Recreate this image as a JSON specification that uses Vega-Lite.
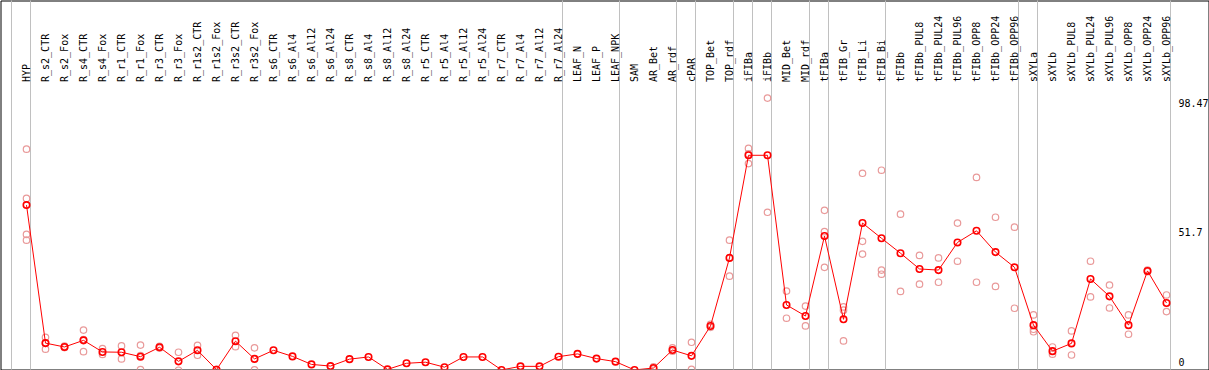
{
  "$schema": "https://vega.github.io/schema/vega-lite/v6.json",
  "width": 1208,
  "height": 369,
  "autosize": {"type": "none"},
  "padding": {"left": 0.5, "top": 0.5, "right": 0, "bottom": 0},
  "background": "white",
  "config": {"view": {"stroke": "black", "strokeWidth": 1}},
  "datasets": {
    "means": [
      {"sample": "HYP", "value": 59.8},
      {"sample": "R_s2_CTR", "value": 9.9},
      {"sample": "R_s2_Fox", "value": 8.5},
      {"sample": "R_s4_CTR", "value": 10.9},
      {"sample": "R_s4_Fox", "value": 6.7},
      {"sample": "R_r1_CTR", "value": 6.6},
      {"sample": "R_r1_Fox", "value": 5.0},
      {"sample": "R_r3_CTR", "value": 8.4},
      {"sample": "R_r3_Fox", "value": 3.3},
      {"sample": "R_r1s2_CTR", "value": 7.3},
      {"sample": "R_r1s2_Fox", "value": 0.3},
      {"sample": "R_r3s2_CTR", "value": 10.6},
      {"sample": "R_r3s2_Fox", "value": 4.2},
      {"sample": "R_s6_CTR", "value": 7.3},
      {"sample": "R_s6_Al4", "value": 5.1},
      {"sample": "R_s6_Al12", "value": 2.2},
      {"sample": "R_s6_Al24", "value": 1.6},
      {"sample": "R_s8_CTR", "value": 4.1},
      {"sample": "R_s8_Al4", "value": 4.9},
      {"sample": "R_s8_Al12", "value": 0.4},
      {"sample": "R_s8_Al24", "value": 2.6},
      {"sample": "R_r5_CTR", "value": 3.0},
      {"sample": "R_r5_Al4", "value": 1.2},
      {"sample": "R_r5_Al12", "value": 4.9},
      {"sample": "R_r5_Al24", "value": 4.9},
      {"sample": "R_r7_CTR", "value": 0.2},
      {"sample": "R_r7_Al4", "value": 1.5},
      {"sample": "R_r7_Al12", "value": 1.5},
      {"sample": "R_r7_Al24", "value": 5.0},
      {"sample": "LEAF_N", "value": 6.0},
      {"sample": "LEAF_P", "value": 4.3},
      {"sample": "LEAF_NPK", "value": 3.2},
      {"sample": "SAM", "value": 0.2},
      {"sample": "AR_Bet", "value": 0.9},
      {"sample": "AR_rdf", "value": 7.4},
      {"sample": "cPAR", "value": 5.3},
      {"sample": "TOP_Bet", "value": 16.1},
      {"sample": "TOP_rdf", "value": 40.7},
      {"sample": "iFIBa", "value": 77.8},
      {"sample": "iFIBb", "value": 77.8},
      {"sample": "MID_Bet", "value": 23.7},
      {"sample": "MID_rdf", "value": 19.7},
      {"sample": "tFIBa", "value": 48.6},
      {"sample": "tFIB_Gr", "value": 18.5},
      {"sample": "tFIB_Li", "value": 53.3},
      {"sample": "tFIB_Bi", "value": 47.8},
      {"sample": "tFIBb", "value": 42.4},
      {"sample": "tFIBb_PUL8", "value": 36.7},
      {"sample": "tFIBb_PUL24", "value": 36.3},
      {"sample": "tFIBb_PUL96", "value": 46.3},
      {"sample": "tFIBb_OPP8", "value": 50.5},
      {"sample": "tFIBb_OPP24", "value": 42.8},
      {"sample": "tFIBb_OPP96", "value": 37.3},
      {"sample": "sXYLa", "value": 16.4},
      {"sample": "sXYLb", "value": 7.0},
      {"sample": "sXYLb_PUL8", "value": 9.8},
      {"sample": "sXYLb_PUL24", "value": 33.1},
      {"sample": "sXYLb_PUL96", "value": 26.8},
      {"sample": "sXYLb_OPP8", "value": 16.4},
      {"sample": "sXYLb_OPP24", "value": 36.0},
      {"sample": "sXYLb_OPP96", "value": 24.4}
    ],
    "reps": [
      {"sample": "HYP", "value": 80.0}, {"sample": "HYP", "value": 62.2}, {"sample": "HYP", "value": 49.2}, {"sample": "HYP", "value": 47.1},
      {"sample": "R_s2_CTR", "value": 12.0}, {"sample": "R_s2_CTR", "value": 9.8}, {"sample": "R_s2_CTR", "value": 7.7},
      {"sample": "R_s2_Fox", "value": 8.8}, {"sample": "R_s2_Fox", "value": 8.3},
      {"sample": "R_s4_CTR", "value": 14.6}, {"sample": "R_s4_CTR", "value": 11.2}, {"sample": "R_s4_CTR", "value": 6.8},
      {"sample": "R_s4_Fox", "value": 7.9}, {"sample": "R_s4_Fox", "value": 5.8},
      {"sample": "R_r1_CTR", "value": 8.9}, {"sample": "R_r1_CTR", "value": 4.2},
      {"sample": "R_r1_Fox", "value": 9.2}, {"sample": "R_r1_Fox", "value": 5.4}, {"sample": "R_r1_Fox", "value": 0.3},
      {"sample": "R_r3_CTR", "value": 8.7}, {"sample": "R_r3_CTR", "value": 8.1},
      {"sample": "R_r3_Fox", "value": 6.6}, {"sample": "R_r3_Fox", "value": 0.1},
      {"sample": "R_r1s2_CTR", "value": 9.1}, {"sample": "R_r1s2_CTR", "value": 5.5},
      {"sample": "R_r1s2_Fox", "value": 0.4}, {"sample": "R_r1s2_Fox", "value": 0.2},
      {"sample": "R_r3s2_CTR", "value": 12.7}, {"sample": "R_r3s2_CTR", "value": 8.6},
      {"sample": "R_r3s2_Fox", "value": 8.2}, {"sample": "R_r3s2_Fox", "value": 0.2},
      {"sample": "AR_Bet", "value": 1.3}, {"sample": "AR_Bet", "value": 0.6},
      {"sample": "AR_rdf", "value": 8.2}, {"sample": "AR_rdf", "value": 7.0},
      {"sample": "cPAR", "value": 10.2}, {"sample": "cPAR", "value": 0.4},
      {"sample": "TOP_Bet", "value": 16.7}, {"sample": "TOP_Bet", "value": 15.6},
      {"sample": "TOP_rdf", "value": 47.1}, {"sample": "TOP_rdf", "value": 34.1},
      {"sample": "iFIBa", "value": 80.3}, {"sample": "iFIBa", "value": 74.8}, {"sample": "iFIBa", "value": 78.3},
      {"sample": "iFIBb", "value": 98.47}, {"sample": "iFIBb", "value": 57.2},
      {"sample": "MID_Bet", "value": 28.7}, {"sample": "MID_Bet", "value": 18.9},
      {"sample": "MID_rdf", "value": 23.3}, {"sample": "MID_rdf", "value": 16.1},
      {"sample": "tFIBa", "value": 57.9}, {"sample": "tFIBa", "value": 50.2}, {"sample": "tFIBa", "value": 37.3},
      {"sample": "tFIB_Gr", "value": 23.0}, {"sample": "tFIB_Gr", "value": 21.8}, {"sample": "tFIB_Gr", "value": 10.7},
      {"sample": "tFIB_Li", "value": 71.3}, {"sample": "tFIB_Li", "value": 46.7}, {"sample": "tFIB_Li", "value": 42.1},
      {"sample": "tFIB_Bi", "value": 72.4}, {"sample": "tFIB_Bi", "value": 36.3}, {"sample": "tFIB_Bi", "value": 34.8},
      {"sample": "tFIBb", "value": 56.5}, {"sample": "tFIBb", "value": 28.6},
      {"sample": "tFIBb_PUL8", "value": 41.6}, {"sample": "tFIBb_PUL8", "value": 31.2},
      {"sample": "tFIBb_PUL24", "value": 40.7}, {"sample": "tFIBb_PUL24", "value": 31.9},
      {"sample": "tFIBb_PUL96", "value": 53.3}, {"sample": "tFIBb_PUL96", "value": 39.5},
      {"sample": "tFIBb_OPP8", "value": 69.8}, {"sample": "tFIBb_OPP8", "value": 31.9},
      {"sample": "tFIBb_OPP24", "value": 55.4}, {"sample": "tFIBb_OPP24", "value": 30.4},
      {"sample": "tFIBb_OPP96", "value": 51.8}, {"sample": "tFIBb_OPP96", "value": 22.5},
      {"sample": "sXYLa", "value": 20.1}, {"sample": "sXYLa", "value": 14.9}, {"sample": "sXYLa", "value": 14.0},
      {"sample": "sXYLb", "value": 8.5}, {"sample": "sXYLb", "value": 5.9},
      {"sample": "sXYLb_PUL8", "value": 14.3}, {"sample": "sXYLb_PUL8", "value": 5.6},
      {"sample": "sXYLb_PUL24", "value": 39.5}, {"sample": "sXYLb_PUL24", "value": 26.6},
      {"sample": "sXYLb_PUL96", "value": 30.9}, {"sample": "sXYLb_PUL96", "value": 22.6},
      {"sample": "sXYLb_OPP8", "value": 20.1}, {"sample": "sXYLb_OPP8", "value": 13.1},
      {"sample": "sXYLb_OPP24", "value": 36.3}, {"sample": "sXYLb_OPP24", "value": 35.7},
      {"sample": "sXYLb_OPP96", "value": 27.3}, {"sample": "sXYLb_OPP96", "value": 21.3}
    ],
    "groupStarts": [
      {"sample": "HYP"}, {"sample": "R_s2_CTR"}, {"sample": "LEAF_N"}, {"sample": "SAM"},
      {"sample": "cPAR"}, {"sample": "TOP_Bet"}, {"sample": "iFIBa"}, {"sample": "iFIBb"},
      {"sample": "MID_Bet"}, {"sample": "tFIBa"}, {"sample": "tFIB_Gr"}, {"sample": "tFIBb"},
      {"sample": "sXYLa"}, {"sample": "sXYLb"}
    ],
    "groupEnd": [{"sample": "sXYLb_OPP96"}],
    "ticksTop": [{"label": "98.47", "value": 98.47}, {"label": "51.7", "value": 51.7}],
    "ticksBottom": [{"label": "0", "value": 0}]
  },
  "layer": [
    {
      "data": {"name": "groupStarts"},
      "mark": {"type": "rule", "color": "#c0c0c0", "strokeWidth": 1, "xOffset": -15},
      "encoding": {"x": {"field": "sample", "type": "nominal", "axis": null}}
    },
    {
      "data": {"name": "groupEnd"},
      "mark": {"type": "rule", "color": "#c0c0c0", "strokeWidth": 1, "xOffset": 4},
      "encoding": {"x": {"field": "sample", "type": "nominal", "axis": null}}
    },
    {
      "mark": {"type": "rule", "color": "#c0c0c0", "strokeWidth": 1},
      "encoding": {"y": {"datum": 51.7, "type": "quantitative", "axis": null}}
    },
    {
      "mark": {"type": "rule", "color": "black", "strokeWidth": 1},
      "encoding": {"y": {"datum": 103.2, "type": "quantitative", "axis": null}}
    },
    {
      "data": {"name": "means"},
      "mark": {"type": "text", "angle": 270, "align": "left", "baseline": "middle", "font": "DejaVu Sans Mono", "fontSize": 10, "color": "black"},
      "encoding": {
        "x": {"field": "sample", "type": "nominal", "axis": null},
        "y": {"datum": 104.3, "type": "quantitative", "axis": null},
        "text": {"field": "sample"}
      }
    },
    {
      "data": {"name": "reps"},
      "mark": {"type": "point", "shape": "circle", "filled": false, "stroke": "#e99a9a", "strokeWidth": 1.2, "size": 42, "clip": true, "opacity": 1},
      "encoding": {
        "x": {"field": "sample", "type": "nominal", "axis": null},
        "y": {"field": "value", "type": "quantitative", "axis": null}
      }
    },
    {
      "data": {"name": "means"},
      "mark": {"type": "line", "color": "#ff0000", "strokeWidth": 1, "clip": true},
      "encoding": {
        "x": {"field": "sample", "type": "nominal", "axis": null, "sort": null},
        "y": {"field": "value", "type": "quantitative", "axis": null}
      }
    },
    {
      "data": {"name": "means"},
      "mark": {"type": "point", "shape": "circle", "filled": false, "stroke": "#ff0000", "strokeWidth": 1.6, "size": 42, "clip": true, "opacity": 1},
      "encoding": {
        "x": {
          "field": "sample", "type": "nominal", "axis": null,
          "scale": {
            "type": "point",
            "range": [26, 1166],
            "padding": 0,
            "domain": ["HYP","R_s2_CTR","R_s2_Fox","R_s4_CTR","R_s4_Fox","R_r1_CTR","R_r1_Fox","R_r3_CTR","R_r3_Fox","R_r1s2_CTR","R_r1s2_Fox","R_r3s2_CTR","R_r3s2_Fox","R_s6_CTR","R_s6_Al4","R_s6_Al12","R_s6_Al24","R_s8_CTR","R_s8_Al4","R_s8_Al12","R_s8_Al24","R_r5_CTR","R_r5_Al4","R_r5_Al12","R_r5_Al24","R_r7_CTR","R_r7_Al4","R_r7_Al12","R_r7_Al24","LEAF_N","LEAF_P","LEAF_NPK","SAM","AR_Bet","AR_rdf","cPAR","TOP_Bet","TOP_rdf","iFIBa","iFIBb","MID_Bet","MID_rdf","tFIBa","tFIB_Gr","tFIB_Li","tFIB_Bi","tFIBb","tFIBb_PUL8","tFIBb_PUL24","tFIBb_PUL96","tFIBb_OPP8","tFIBb_OPP24","tFIBb_OPP96","sXYLa","sXYLb","sXYLb_PUL8","sXYLb_PUL24","sXYLb_PUL96","sXYLb_OPP8","sXYLb_OPP24","sXYLb_OPP96"]
          }
        },
        "y": {"field": "value", "type": "quantitative", "axis": null, "scale": {"domain": [0.36, 133.76], "zero": false, "nice": false}}
      }
    },
    {
      "mark": {"type": "text", "align": "left", "baseline": "middle", "font": "DejaVu Sans Mono", "fontSize": 10, "color": "#ff0000", "xOffset": -16},
      "encoding": {
        "x": {"datum": "HYP", "type": "nominal", "axis": null},
        "y": {"datum": 98.9, "type": "quantitative", "axis": null},
        "text": {"value": "Lus10036813"}
      }
    },
    {
      "data": {"name": "ticksTop"},
      "mark": {"type": "text", "align": "left", "baseline": "top", "dy": 1, "font": "DejaVu Sans Mono", "fontSize": 10, "color": "black", "xOffset": 12},
      "encoding": {
        "x": {"datum": "sXYLb_OPP96", "type": "nominal", "axis": null},
        "y": {"field": "value", "type": "quantitative", "axis": null},
        "text": {"field": "label"}
      }
    },
    {
      "data": {"name": "ticksBottom"},
      "mark": {"type": "text", "align": "left", "baseline": "bottom", "dy": -2, "font": "DejaVu Sans Mono", "fontSize": 10, "color": "black", "xOffset": 12},
      "encoding": {
        "x": {"datum": "sXYLb_OPP96", "type": "nominal", "axis": null},
        "y": {"field": "value", "type": "quantitative", "axis": null},
        "text": {"field": "label"}
      }
    }
  ]
}
